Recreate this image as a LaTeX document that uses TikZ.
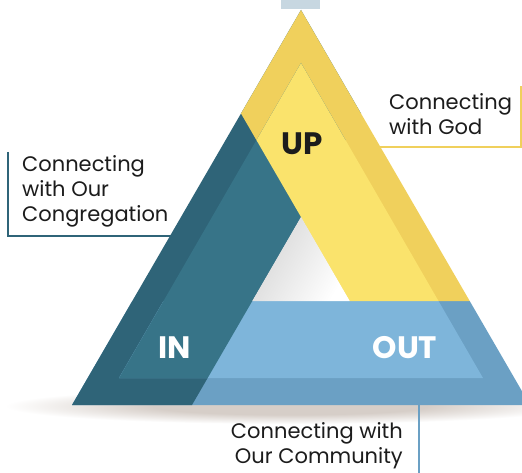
\documentclass[tikz,border=0pt]{standalone}
\usepackage{fontspec}
\setmainfont{Poppins}
\usetikzlibrary{calc}
\definecolor{upRim}{HTML}{F0D05C}
\definecolor{upIn}{HTML}{FAE36C}
\definecolor{inRim}{HTML}{2F6478}
\definecolor{inIn}{HTML}{377488}
\definecolor{outRim}{HTML}{6BA0C4}
\definecolor{outIn}{HTML}{7EB5DA}
\definecolor{topBlue}{HTML}{C7D7E1}
\definecolor{txtGray}{HTML}{1C1C1C}
\definecolor{floorGray}{HTML}{D6CEC8}
\pgfdeclareradialshading{floorshadow}{\pgfpoint{0bp}{0bp}}{color(0bp)=(floorGray); color(12bp)=(floorGray); color(25bp)=(white); color(50bp)=(white)}

\begin{document}
\begin{tikzpicture}[x=1pt, y=-1pt,
  lbl/.style={anchor=north west, inner sep=0pt, align=left, text=txtGray,
    font=\fontsize{21}{25}\selectfont},
  big/.style={anchor=base, inner sep=0pt, font=\fontsize{31}{31}\selectfont\bfseries},
  bracket/.style={line width=2pt}]
\useasboundingbox (0,0) rectangle (522,473);
\fill[white] (0,0) rectangle (522,473);
\fill[topBlue] (281,0) rectangle (320,9);
\shade[shading=floorshadow] (290,406) ellipse (285 and 18);
% corners
\coordinate (A) at (301,10);
\coordinate (L) at (72,405);
\coordinate (R) at (530,405);
\coordinate (a) at (301,63);
\coordinate (l) at (119,378);
\coordinate (r) at (483,378);
% bands
\def\outband{(L) -- (R) -- (469.7,301) -- (132.3,301) -- cycle}
\def\inband{(L) -- (A) -- (361,113.5) -- (192,405) -- cycle}
\def\upband{(A) -- (469.7,301) -- (349.7,301) -- (241,113.5) -- cycle}
\fill[outRim] \outband;
\fill[inRim] \inband;
\fill[upRim] \upband;
\begin{scope}
\clip (a) -- (l) -- (r) -- cycle;
\fill[outIn] \outband;
\fill[inIn] \inband;
\fill[upIn] \upband;
\end{scope}
\shade[top color=black!16, middle color=white, bottom color=white, shading angle=60] (252.3,301) -- (301,217) -- (349.7,301) -- cycle;
\node[big, text=txtGray] (up) at (302,155) {UP};
\node[big, text=white] (in) at (175,358) {IN};
\node[big, text=white] (out) at (405,358) {OUT};
\node[lbl] (god) at (389,93) {Connecting\\with God};
\node[lbl] (cong) at (22,155) {Connecting\\with Our\\Congregation};
\node[lbl, anchor=north east, align=right] (comm) at (403,422) {Connecting with\\Our Community};
\coordinate (godA) at (380,147);
\coordinate (godB) at (521,147);
\coordinate (godC) at (521,86);
\coordinate (congA) at (8,152);
\coordinate (congB) at (8,236);
\coordinate (congC) at (171,236);
\coordinate (commA) at (419,405);
\coordinate (commB) at (419,473);
\draw[bracket, upRim] (godA) -- (godB) -- (godC);
\draw[bracket, inRim] (congA) -- (congB) -- (congC);
\draw[bracket, outRim] (commA) -- (commB);
\end{tikzpicture}
\end{document}
